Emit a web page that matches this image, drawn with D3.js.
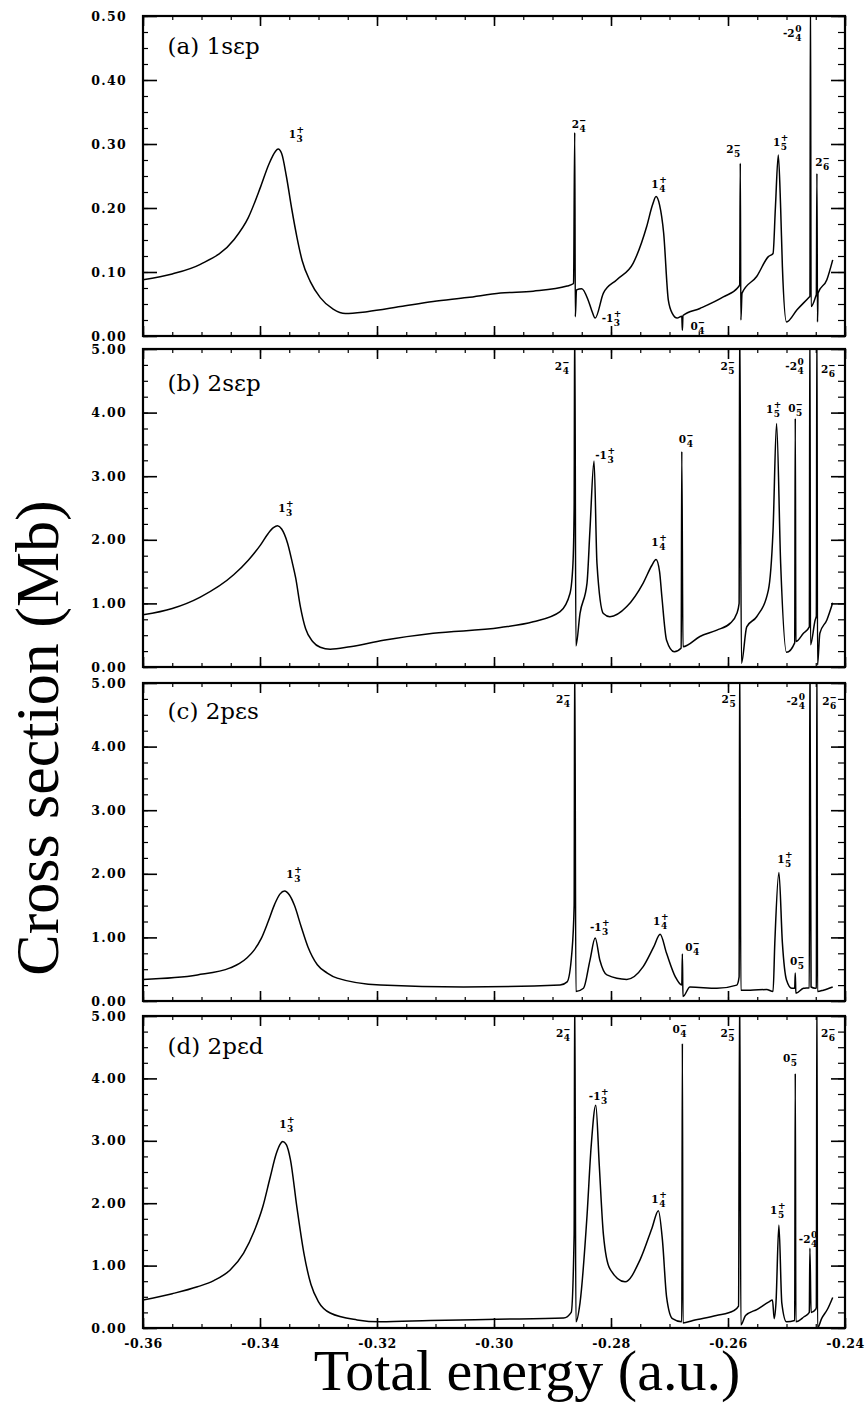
<!DOCTYPE html>
<html>
<head>
<meta charset="utf-8">
<script src="https://cdn.jsdelivr.net/npm/d3@7"></script>
<style>
  body { margin: 0; background: #fff; }
  text { fill: #000; }
</style>
</head>
<body>
<svg id="chart" width="865" height="1404"></svg>
<script>
// ---- data: [total energy (a.u.), cross section (Mb)] ----
let curveA = [
  [-0.3600,0.088],[-0.3550,0.097],[-0.3502,0.112],[-0.3445,0.150],[-0.3420,0.185],[-0.3399,0.233],
  [-0.3385,0.268],[-0.3374,0.288],[-0.3369,0.292],[-0.3363,0.285],[-0.3355,0.250],[-0.3346,0.200],
  [-0.3337,0.155],[-0.3328,0.118],[-0.3314,0.085],[-0.3297,0.060],[-0.3275,0.042],[-0.3254,0.035],
  [-0.3217,0.038],[-0.3160,0.046],[-0.3104,0.054],[-0.3046,0.060],[-0.2989,0.067],[-0.2933,0.070],
  [-0.2875,0.078],[-0.2864,0.082],[-0.2862,0.318],[-0.2861,0.030],[-0.2859,0.072],[-0.2850,0.074],
  [-0.2839,0.056],[-0.2833,0.040],[-0.2827,0.028],[-0.2813,0.067],[-0.2790,0.088],[-0.2762,0.114],
  [-0.2739,0.171],[-0.2729,0.205],[-0.2723,0.218],[-0.2717,0.205],[-0.2710,0.161],[-0.2702,0.056],
  [-0.2695,0.035],[-0.2687,0.028],[-0.2679,0.031],[-0.2678,0.009],[-0.2677,0.032],[-0.2648,0.043],
  [-0.2608,0.061],[-0.2582,0.077],[-0.2580,0.080],[-0.2579,0.270],[-0.2578,0.025],[-0.2576,0.067],
  [-0.2551,0.093],[-0.2531,0.124],[-0.2523,0.129],[-0.2519,0.200],[-0.2514,0.283],[-0.2510,0.200],
  [-0.2507,0.108],[-0.2500,0.022],[-0.2482,0.041],[-0.2461,0.061],[-0.2460,0.062],[-0.2459,0.550],
  [-0.2458,0.046],[-0.2450,0.062],[-0.2449,0.065],[-0.2448,0.254],[-0.2447,0.022],[-0.2446,0.067],
  [-0.2431,0.088],[-0.2421,0.119]
];
let curveB = [
  [-0.3600,0.82],[-0.3550,0.92],[-0.3502,1.10],[-0.3445,1.45],[-0.3420,1.68],[-0.3399,1.92],
  [-0.3386,2.10],[-0.3377,2.19],[-0.3370,2.22],[-0.3363,2.17],[-0.3353,1.95],[-0.3345,1.65],
  [-0.3339,1.40],[-0.3331,0.95],[-0.3322,0.60],[-0.3310,0.40],[-0.3297,0.31],[-0.3280,0.28],
  [-0.3246,0.32],[-0.3189,0.42],[-0.3104,0.53],[-0.2989,0.62],[-0.2933,0.71],[-0.2887,0.87],
  [-0.2870,1.16],[-0.2865,1.63],[-0.2863,2.50],[-0.2862,5.60],[-0.2860,0.33],[-0.2853,0.84],
  [-0.2841,1.32],[-0.2836,2.15],[-0.2829,3.24],[-0.2824,1.63],[-0.2813,0.84],[-0.2802,0.79],
  [-0.2773,0.95],[-0.2745,1.32],[-0.2730,1.60],[-0.2723,1.69],[-0.2717,1.50],[-0.2713,1.10],
  [-0.2705,0.42],[-0.2692,0.24],[-0.2680,0.30],[-0.2679,3.39],[-0.2677,0.32],[-0.2648,0.48],
  [-0.2619,0.58],[-0.2596,0.69],[-0.2585,0.84],[-0.2581,1.00],[-0.2580,5.60],[-0.2577,0.06],
  [-0.2568,0.63],[-0.2551,0.79],[-0.2531,1.21],[-0.2523,2.15],[-0.2517,3.83],[-0.2510,1.63],
  [-0.2500,0.23],[-0.2486,0.38],[-0.2485,3.91],[-0.2484,0.40],[-0.2471,0.53],[-0.2461,0.63],
  [-0.2460,5.60],[-0.2459,0.35],[-0.2451,0.74],[-0.2449,0.80],[-0.2448,5.60],[-0.2447,0.03],
  [-0.2443,0.53],[-0.2431,0.74],[-0.2421,1.01]
];
let curveC = [
  [-0.3600,0.34],[-0.3507,0.41],[-0.3451,0.52],[-0.3435,0.59],[-0.3422,0.68],[-0.3410,0.80],
  [-0.3398,0.98],[-0.3386,1.25],[-0.3375,1.52],[-0.3366,1.68],[-0.3358,1.73],[-0.3350,1.67],
  [-0.3341,1.50],[-0.3330,1.18],[-0.3318,0.85],[-0.3302,0.57],[-0.3285,0.44],[-0.3268,0.36],
  [-0.3194,0.25],[-0.3052,0.22],[-0.2887,0.25],[-0.2875,0.30],[-0.2867,0.75],[-0.2863,1.50],
  [-0.2862,5.60],[-0.2860,0.15],[-0.2847,0.20],[-0.2836,0.64],[-0.2827,0.99],[-0.2819,0.64],
  [-0.2807,0.41],[-0.2773,0.34],[-0.2745,0.54],[-0.2727,0.85],[-0.2716,1.05],[-0.2705,0.75],
  [-0.2690,0.38],[-0.2679,0.25],[-0.2678,0.74],[-0.2677,0.07],[-0.2665,0.22],[-0.2619,0.20],
  [-0.2585,0.25],[-0.2581,0.38],[-0.2580,5.60],[-0.2578,0.17],[-0.2562,0.17],[-0.2534,0.18],
  [-0.2523,0.15],[-0.2520,0.91],[-0.2513,2.02],[-0.2507,0.91],[-0.2500,0.33],[-0.2491,0.20],
  [-0.2486,0.20],[-0.2485,0.44],[-0.2484,0.12],[-0.2471,0.20],[-0.2461,0.21],[-0.2460,5.60],
  [-0.2458,0.22],[-0.2451,0.20],[-0.2449,0.21],[-0.2448,5.60],[-0.2447,0.15],[-0.2437,0.17],
  [-0.2421,0.22]
];
let curveD = [
  [-0.3600,0.45],[-0.3550,0.55],[-0.3507,0.66],[-0.3479,0.76],[-0.3451,0.93],[-0.3428,1.20],
  [-0.3410,1.55],[-0.3395,1.95],[-0.3383,2.40],[-0.3372,2.80],[-0.3366,2.94],[-0.3361,2.99],
  [-0.3355,2.94],[-0.3348,2.70],[-0.3337,1.94],[-0.3325,1.20],[-0.3313,0.70],[-0.3300,0.42],
  [-0.3280,0.24],[-0.3234,0.13],[-0.3194,0.10],[-0.3109,0.12],[-0.2995,0.14],[-0.2881,0.16],
  [-0.2868,0.25],[-0.2863,1.50],[-0.2862,5.60],[-0.2860,0.10],[-0.2853,0.40],[-0.2841,1.80],
  [-0.2834,2.90],[-0.2826,3.57],[-0.2820,2.60],[-0.2813,1.50],[-0.2802,0.95],[-0.2776,0.74],
  [-0.2750,1.10],[-0.2730,1.60],[-0.2719,1.88],[-0.2712,1.40],[-0.2705,0.50],[-0.2695,0.15],
  [-0.2679,0.10],[-0.2678,4.56],[-0.2677,0.08],[-0.2660,0.12],[-0.2620,0.20],[-0.2590,0.28],
  [-0.2582,0.35],[-0.2580,5.60],[-0.2578,0.05],[-0.2570,0.20],[-0.2550,0.30],[-0.2530,0.42],
  [-0.2524,0.45],[-0.2521,0.15],[-0.2518,0.40],[-0.2513,1.65],[-0.2508,0.40],[-0.2500,0.10],
  [-0.2486,0.12],[-0.2485,4.08],[-0.2484,0.10],[-0.2470,0.18],[-0.2461,0.25],[-0.2460,1.28],
  [-0.2458,0.25],[-0.2450,0.30],[-0.2449,0.33],[-0.2448,5.60],[-0.2447,0.00],[-0.2440,0.15],
  [-0.2430,0.30],[-0.2421,0.49]
];

// resonance labels: [base, superscript, subscript, energy, cross section]
let labelsA = [
  ["1","+","3",-0.3351,0.309],["2","-","4",-0.2867,0.325],["-1","+","3",-0.2816,0.022],
  ["1","+","4",-0.2731,0.231],["0","-","4",-0.2664,0.009],["2","-","5",-0.2603,0.286],
  ["1","+","5",-0.2523,0.297],["-2","0","4",-0.2506,0.467],["2","-","6",-0.2451,0.266]
];
let labelsB = [
  ["1","+","3",-0.3369,2.44],["2","-","4",-0.2896,4.67],["-1","+","3",-0.2827,3.27],
  ["1","+","4",-0.2731,1.90],["0","-","4",-0.2684,3.52],["2","-","5",-0.2613,4.67],
  ["1","+","5",-0.2535,3.99],["0","-","5",-0.2497,4.01],["-2","0","4",-0.2502,4.67],
  ["2","-","6",-0.2441,4.62]
];
let labelsC = [
  ["1","+","3",-0.3355,1.93],["2","-","4",-0.2894,4.69],["-1","+","3",-0.2836,1.10],
  ["1","+","4",-0.2728,1.19],["0","-","4",-0.2673,0.79],["2","-","5",-0.2611,4.69],
  ["1","+","5",-0.2516,2.17],["0","-","5",-0.2494,0.57],["-2","0","4",-0.2500,4.65],
  ["2","-","6",-0.2439,4.65]
];
let labelsD = [
  ["1","+","3",-0.3367,3.21],["2","-","4",-0.2894,4.66],["-1","+","3",-0.2838,3.65],
  ["1","+","4",-0.2731,2.00],["0","-","4",-0.2695,4.73],["2","-","5",-0.2613,4.66],
  ["0","-","5",-0.2506,4.26],["1","+","5",-0.2528,1.83],["-2","0","4",-0.2479,1.36],
  ["2","-","6",-0.2441,4.66]
];

let panelNames = ["(a) 1sεp", "(b) 2sεp", "(c) 2pεs", "(d) 2pεd"];
let panelNameY = [0.44, 4.34, 4.43, 4.39];
let xTickValues = [-0.36, -0.34, -0.32, -0.30, -0.28, -0.26, -0.24];
let yTicksSmall = [0, 0.1, 0.2, 0.3, 0.4, 0.5];
let yTicksLarge = [0, 1, 2, 3, 4, 5];

// ---- layout ----
let svg = d3.select("#chart");
let left = 143, right = 845;
let panelTops = [16, 349, 683, 1016];
let panelBottoms = [336, 667, 1001, 1328];
let serif = "'DejaVu Serif', serif";
let times = "'Liberation Serif', 'Times New Roman', serif";

let x = d3.scaleLinear().domain([-0.36, -0.24]).range([left, right]);
let xMinor = d3.range(-0.36, -0.2399, 0.005);

function drawPanel(i, data, labels, yMax, yMajor){
  let top = panelTops[i], bottom = panelBottoms[i];
  let y = d3.scaleLinear().domain([0, yMax]).range([bottom, top]);
  let yMinor = d3.range(0, yMax + yMax/1000, yMax/20);
  let g = svg.append("g").attr("class", "panel panel-" + i);

  g.append("clipPath").attr("id", "clip-" + i)
    .append("rect")
    .attr("x", left).attr("y", top)
    .attr("width", right - left).attr("height", bottom - top);

  // minor ticks first, then major on top
  let axes = [
    [d3.axisLeft(y).tickValues(yMinor).tickSize(-5), "translate(" + left + ",0)"],
    [d3.axisLeft(y).tickValues(yMajor).tickSize(-14).tickPadding(16).tickFormat(d => d.toFixed(2)), "translate(" + left + ",0)"],
    [d3.axisRight(y).tickValues(yMinor).tickSize(-7), "translate(" + right + ",0)"],
    [d3.axisRight(y).tickValues(yMajor).tickSize(-14), "translate(" + right + ",0)"],
    [d3.axisTop(x).tickValues(xMinor).tickSize(-4), "translate(0," + top + ")"],
    [d3.axisTop(x).tickValues(xTickValues).tickSize(-10), "translate(0," + top + ")"],
    [d3.axisBottom(x).tickValues(xMinor).tickSize(-4), "translate(0," + bottom + ")"],
    [d3.axisBottom(x).tickValues(xTickValues).tickSize(-10).tickPadding(11)
      .tickFormat(d => i == 3 ? d.toFixed(2) : ""), "translate(0," + bottom + ")"]
  ];
  axes.forEach(function(a, k){
    let ax = a[0];
    if (k != 1 && k != 7) ax.tickFormat("");
    let ga = g.append("g").attr("transform", a[1]).call(ax);
    ga.select(".domain").remove();
    ga.selectAll("line").attr("stroke", "#000").attr("stroke-width", k % 2 ? 1.6 : 1.2);
    ga.selectAll("text")
      .attr("font-family", serif)
      .attr("font-weight", "bold")
      .attr("font-size", "12.5px")
      .attr("letter-spacing", k == 7 ? "0.6px" : "1.3px")
      .attr("fill", "#000");
  });

  g.append("rect")
    .attr("x", left).attr("y", top)
    .attr("width", right - left).attr("height", bottom - top)
    .attr("fill", "none").attr("stroke", "#000").attr("stroke-width", 2.2);

  let line = d3.line()
    .x(d => x(d[0]))
    .y(d => y(d[1]))
    .curve(d3.curveMonotoneX);

  g.append("path")
    .datum(data)
    .attr("clip-path", "url(#clip-" + i + ")")
    .attr("d", line)
    .attr("fill", "none")
    .attr("stroke", "#000")
    .attr("stroke-width", 1.5)
    .attr("stroke-linejoin", "round");

  g.append("text")
    .attr("x", x(-0.3558))
    .attr("y", y(panelNameY[i]))
    .attr("font-family", serif)
    .attr("font-size", "23px")
    .text(panelNames[i]);

  // resonance labels with stacked super/subscripts
  let gl = g.selectAll(".reslabel")
    .data(labels)
    .enter()
    .append("g")
    .attr("class", "reslabel")
    .attr("transform", d => "translate(" + x(d[3]) + "," + y(d[4]) + ")");

  gl.append("text")
    .attr("class", "base")
    .attr("font-family", serif)
    .attr("font-weight", "bold")
    .attr("font-size", "10.5px")
    .text(d => d[0]);

  gl.each(function(d){
    let node = d3.select(this);
    let w = node.select(".base").node().getComputedTextLength();
    node.append("text")
      .attr("x", w + 0.5).attr("y", -5)
      .attr("font-family", serif).attr("font-weight", "bold").attr("font-size", "9px")
      .text(d[1] == "-" ? "\u2012" : d[1]);
    node.append("text")
      .attr("x", w + 0.5).attr("y", 4)
      .attr("font-family", serif).attr("font-weight", "bold").attr("font-size", "9px")
      .text(d[2]);
  });
}

drawPanel(0, curveA, labelsA, 0.5, yTicksSmall);
drawPanel(1, curveB, labelsB, 5, yTicksLarge);
drawPanel(2, curveC, labelsC, 5, yTicksLarge);
drawPanel(3, curveD, labelsD, 5, yTicksLarge);

// axis titles
svg.append("text")
  .attr("transform", "translate(58,738) rotate(-90)")
  .attr("text-anchor", "middle")
  .attr("font-family", times)
  .attr("font-size", "62px")
  .text("Cross section (Mb)");

svg.append("text")
  .attr("x", 527)
  .attr("y", 1390)
  .attr("text-anchor", "middle")
  .attr("font-family", times)
  .attr("font-size", "58px")
  .text("Total energy (a.u.)");
</script>
</body>
</html>
